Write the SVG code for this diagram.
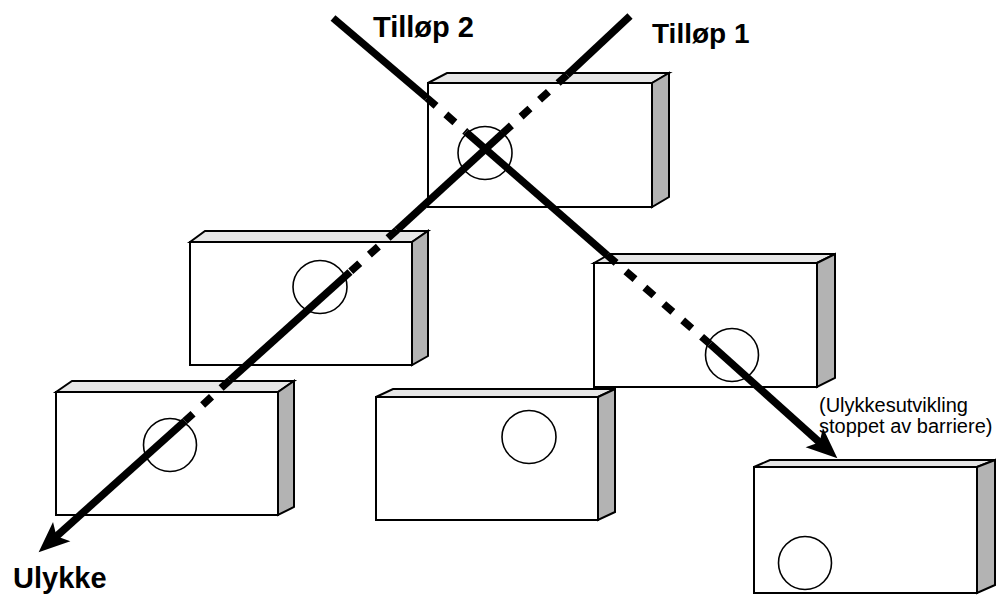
<svg xmlns="http://www.w3.org/2000/svg" width="1003" height="595" viewBox="0 0 1003 595">
<style>
.front{fill:#ffffff;stroke:#000;stroke-width:2;stroke-linejoin:miter}
.top{fill:#e6e6e6;stroke:#000;stroke-width:2;stroke-linejoin:miter}
.side{fill:#b3b3b3;stroke:#000;stroke-width:2;stroke-linejoin:miter}
.hole{fill:none;stroke:#000;stroke-width:1.6}
.solid{fill:none;stroke:#000;stroke-width:7.5;stroke-linecap:butt}
.dash{fill:none;stroke:#000;stroke-width:7.5;stroke-linecap:butt;stroke-dasharray:12 13}
.big{font-family:"Liberation Sans",Arial,sans-serif;font-weight:bold;fill:#000}
.small{font-family:"Liberation Sans",Arial,sans-serif;font-size:20px;fill:#000}
</style>
<defs>
<marker id="head" markerUnits="userSpaceOnUse" markerWidth="44" markerHeight="34" viewBox="-14 -17 44 34" refX="0" refY="0" orient="auto" overflow="visible">
<path d="M22,0 L-9,-13 L-2,0 L-9,13 Z" fill="#000"/>
</marker>
</defs>
<rect width="1003" height="595" fill="#fff"/>

<g id="box-top">
<polygon class="top" points="428,83 447,73 669,73 652,83"/>
<polygon class="side" points="652,83 669,73 669,197 652,207"/>
<rect class="front" x="428" y="83" width="224" height="124"/>
<ellipse class="hole" cx="485" cy="153" rx="27" ry="26.5"/>
</g>
<g id="box-mid-left">
<polygon class="top" points="190,242 205,231 428,231 412,242"/>
<polygon class="side" points="412,242 428,231 428,356 412,365"/>
<rect class="front" x="190" y="242" width="222" height="123"/>
<ellipse class="hole" cx="320" cy="287" rx="27" ry="26.5"/>
</g>
<g id="box-mid-right">
<polygon class="top" points="594,263 610,254 835,254 817,263"/>
<polygon class="side" points="817,263 835,254 835,378 817,387"/>
<rect class="front" x="594" y="263" width="223" height="124"/>
<ellipse class="hole" cx="732" cy="355" rx="26.5" ry="26.5"/>
</g>
<g id="box-bottom-left">
<polygon class="top" points="56,392 72,381 294,381 278,392"/>
<polygon class="side" points="278,392 294,381 294,507 278,515"/>
<rect class="front" x="56" y="392" width="222" height="123"/>
<ellipse class="hole" cx="170" cy="445" rx="26.5" ry="26.5"/>
</g>
<g id="box-bottom-middle">
<polygon class="top" points="376,397 393,389 615,389 598,397"/>
<polygon class="side" points="598,397 615,389 615,512 598,520"/>
<rect class="front" x="376" y="397" width="222" height="123"/>
<ellipse class="hole" cx="529" cy="437" rx="27" ry="26.5"/>
</g>
<g id="box-bottom-right">
<polygon class="top" points="754,467 770,460 995,460 977,467"/>
<polygon class="side" points="977,467 995,460 995,585 977,593"/>
<rect class="front" x="754" y="467" width="223" height="126"/>
<ellipse class="hole" cx="805" cy="563" rx="26.5" ry="26.5"/>
</g>

<g id="connectors">
<!-- Tilløp 2 -->
<path class="solid" d="M333,18 L427,98"/>
<path class="dash" d="M427,98 L466,132"/>
<path class="solid" d="M466,132 L607,255"/>
<path class="dash" d="M607,255 L710,344"/>
<path class="solid" d="M710,344 L821,443.6" marker-end="url(#head)"/>
<!-- Tilløp 1 -->
<path class="solid" d="M630,16 L567,75"/>
<path class="dash" d="M567,75 L503,133"/>
<path class="solid" d="M503,133 L397,230"/>
<path class="dash" d="M397,230 L350,272"/>
<path class="solid" d="M350,272 L230,380"/>
<path class="dash" d="M230,380 L185,421"/>
<path class="solid" d="M185,421 L55,537.6" marker-end="url(#head)"/>
</g>

<g id="labels">
<text class="big" x="373" y="37" font-size="29">Tilløp 2</text>
<text class="big" x="652" y="43" font-size="28">Tilløp 1</text>
<text class="big" x="13" y="588" font-size="29">Ulykke</text>
<text class="small" x="819" y="412">(Ulykkesutvikling</text>
<text class="small" x="819" y="433">stoppet av barriere)</text>
</g>
</svg>
